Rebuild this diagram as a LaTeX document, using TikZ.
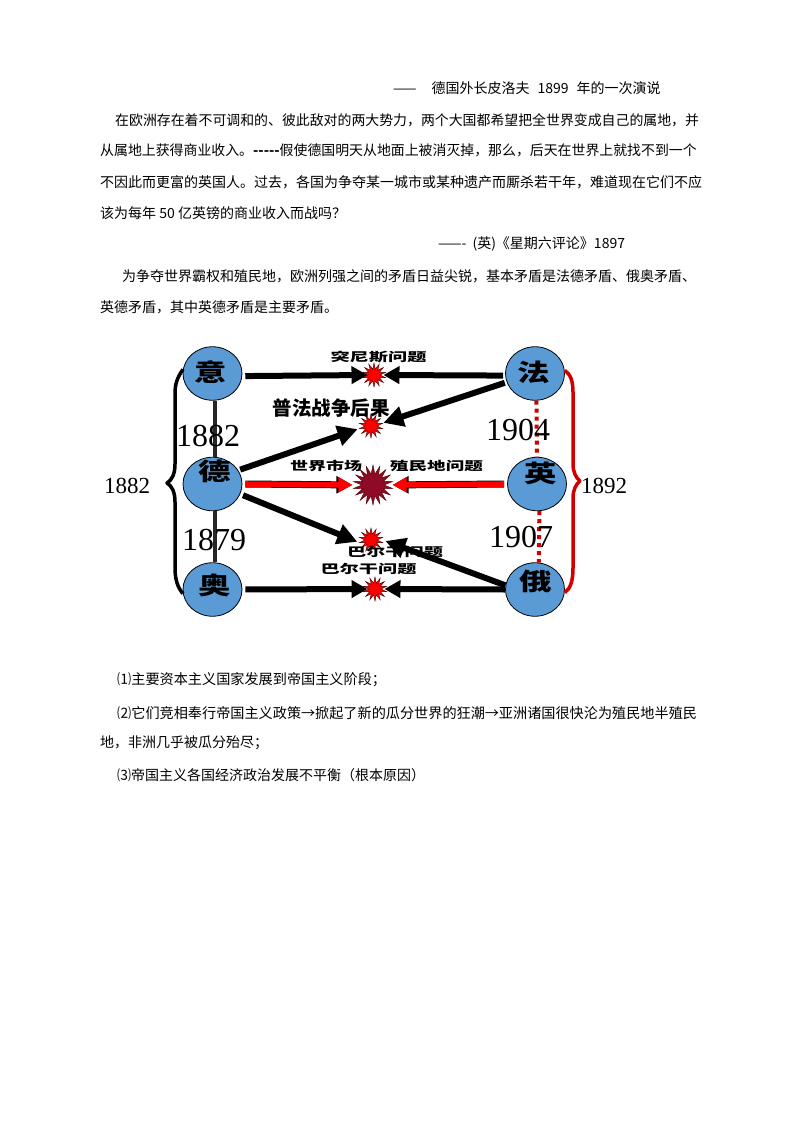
\documentclass[tikz,border=0pt]{standalone}
\usepackage{fontspec}
\usepackage{graphicx}
\setmainfont{Liberation Serif}
\newfontfamily\cjk{Noto Sans CJK SC}
\usetikzlibrary{arrows.meta,shapes.geometric}
\definecolor{ballblue}{HTML}{5B9BD5}
\definecolor{burstdark}{HTML}{8E0A26}
\definecolor{bracered}{HTML}{D00000}
\newcommand{\wideglyph}[2]{\scalebox{#1}[1]{#2}}
\newcommand{\widearrow}{\makebox[14pt]{→}}
\tikzset{
  bodytext/.style={anchor=west,inner sep=0pt,font=\cjk\fontsize{14}{16}\selectfont},
  ball/.style={ellipse,draw=black,line width=.8pt,fill=ballblue,minimum width=59pt,minimum height=53.5pt,inner sep=0pt},
  ballglyph/.style={inner sep=0pt,font=\cjk\bfseries\fontsize{24}{24}\selectfont},
  burst/.style={star,star points=14,star point ratio=2.0,draw=black!70!red,line width=.4pt,fill=red,minimum size=24pt,inner sep=0pt},
  bigburst/.style={star,star points=18,star point ratio=1.8,draw=black!70!red,line width=.4pt,fill=burstdark,minimum size=40pt,inner sep=0pt},
  burstlabel/.style={inner sep=0pt,font=\cjk\bfseries\fontsize{12}{12}\selectfont},
  bignum/.style={inner sep=0pt,font=\fontsize{32}{32}\selectfont},
  smallnum/.style={inner sep=0pt,font=\fontsize{23}{23}\selectfont},
  heavyarrow/.style={line width=6pt,draw=black,-{Triangle[length=16pt,width=17pt]}},
  slantarrow/.style={line width=6pt,draw=black,-{Triangle[length=20pt,width=20pt]}},
  redarrow/.style={line width=5.6pt,draw=red,-{Triangle[length=14pt,width=14.5pt,red]},
    preaction={draw=black,line width=7pt,-{Triangle[length=16pt,width=16.5pt,black]}}},
  allyline/.style={line width=4.5pt,draw=black!85},
  entente/.style={line width=4pt,draw=bracered,dash pattern=on 4pt off 4pt},
  leftbrace/.style={line width=3.5pt,draw=black,line join=round},
  rightbrace/.style={line width=3.5pt,draw=bracered,line join=round}
}
\begin{document}
\begin{tikzpicture}[x=1pt,y=-1pt]
\useasboundingbox (0,0) rectangle (794,1123);
% text
\node[bodytext] (t0) at (393,88) {——\hspace{15pt}德国外长皮洛夫\hspace{8pt}1899\hspace{8pt}年的一次演说};
\node[bodytext,font=\cjk\fontsize{13.9}{16}\selectfont] (t1) at (115,120) {在欧洲存在着不可调和的、彼此敌对的两大势力，两个大国都希望把全世界变成自己的属地，并};
\node[bodytext,font=\cjk\fontsize{13.9}{16}\selectfont] (t2) at (100,150) {从属地上获得商业收入。{\bfseries -----}假使德国明天从地面上被消灭掉，那么，后天在世界上就找不到一个};
\node[bodytext] (t3) at (100,182) {不因此而更富的英国人。过去，各国为争夺某一城市或某种遗产而厮杀若干年，难道现在它们不应};
\node[bodytext] (t4) at (100,213) {该为每年 50 亿英镑的商业收入而战吗？};
\node[bodytext] (t5) at (438,244) {——-\hspace{6pt}(英)《星期六评论》1897};
\node[bodytext] (t6) at (122,276) {为争夺世界霸权和殖民地，欧洲列强之间的矛盾日益尖锐，基本矛盾是法德矛盾、俄奥矛盾、};
\node[bodytext] (t7) at (100,307) {英德矛盾，其中英德矛盾是主要矛盾。};
\node[bodytext,font=\cjk\fontsize{14.15}{16}\selectfont] (t8) at (117,680) {⑴主要资本主义国家发展到帝国主义阶段；};
\node[bodytext,font=\cjk\fontsize{14.15}{16}\selectfont] (t9) at (117,713) {⑵它们竞相奉行帝国主义政策\widearrow 掀起了新的瓜分世界的狂潮\widearrow 亚洲诸国很快沦为殖民地半殖民};
\node[bodytext] (t10) at (100,743) {地，非洲几乎被瓜分殆尽；};
\node[bodytext] (t11) at (117,775) {⑶帝国主义各国经济政治发展不平衡（根本原因）};
% country circles
\node[ball] (yi) at (212.5,373.5) {};
\node[ball] (de) at (212.5,484) {};
\node[ball] (ao) at (212.5,589.5) {};
\node[ball] (fa) at (535,373.5) {};
\node[ball] (ying) at (537,484) {};
\node[ball] (e) at (535,589.5) {};
\node[ballglyph] (gyi) at (211,372) {\wideglyph{1.35}{意}};
\node[ballglyph] (gde) at (215,471) {\wideglyph{1.35}{德}};
\node[ballglyph] (gao) at (215,585) {\wideglyph{1.35}{奥}};
\node[ballglyph] (gfa) at (534,372) {\wideglyph{1.35}{法}};
\node[ballglyph] (gying) at (541,473) {\wideglyph{1.35}{英}};
\node[ballglyph] (ge) at (536,581) {\wideglyph{1.35}{俄}};
% alliance lines
\draw[allyline] (yi.-85) -- (de.85);
\draw[allyline] (de.-85) -- (ao.85);
\draw[entente] (fa.-87) -- (ying.90);
\draw[entente] (ying.-85) -- (e.82);
% braces
\coordinate (ltip) at (167,483);
\coordinate (rtip) at (580,481);
\draw[leftbrace] (yi.172) .. controls (177,378) and (175,384) .. (175,394) -- (175,464)
  .. controls (175,474) and (172,480) .. (ltip)
  .. controls (172,486) and (175,492) .. (175,502) -- (175,568)
  .. controls (175,580) and (178,588) .. (ao.188);
\draw[rightbrace] (fa.6) .. controls (570,374) and (573,380) .. (573,392) -- (573,464)
  .. controls (573,472) and (576,478) .. (rtip)
  .. controls (576,484) and (573,490) .. (573,498) -- (573,568)
  .. controls (573,582) and (570,589) .. (e.-6);
% numbers
\node[bignum] (n1) at (208,436) {1882};
\node[bignum] (n2) at (214,540) {1879};
\node[bignum] (n3) at (518,430) {1904};
\node[bignum] (n4) at (521,537) {1907};
\node[smallnum] (n5) at (127,486) {1882};
\node[smallnum] (n6) at (604,486) {1892};
% bursts
\node[burst] (b1) at (374,375) {};
\node[burst] (b2) at (371,426) {};
\node[bigburst] (b3) at (373,485) {};
\node[burst] (b4) at (371,540) {};
\node[burst] (b5) at (375,589) {};
% burst labels
\node[burstlabel] (l1) at (378.5,357) {\wideglyph{1.6}{突尼斯问题}};
\node[inner sep=0pt,font=\cjk\bfseries\fontsize{19.5}{20}\selectfont] (l2) at (331,408) {普法战争后果};
\node[burstlabel] (l3) at (326,466) {\wideglyph{1.5}{世界市场}};
\node[burstlabel] (l4) at (436.5,466) {\wideglyph{1.55}{殖民地问题}};
\node[burstlabel] (l5) at (395,552) {\wideglyph{1.6}{巴尔干问题}};
\node[burstlabel] (l6) at (368.5,569) {\wideglyph{1.6}{巴尔干问题}};
% arrows
\draw[heavyarrow,shorten <=3pt] (yi.-5) -- (b1.180);
\draw[heavyarrow,shorten <=2pt,shorten >=3pt] (fa.184) -- (b1.0);
\draw[slantarrow,shorten <=2pt,shorten >=1pt] (de.28) -- (b2.193);
\draw[slantarrow,shorten <=2pt,shorten >=1pt] (fa.197) -- (b2.14);
\draw[redarrow,shorten <=3pt,shorten >=9pt] (de.0) -- (b3.180);
\draw[redarrow,shorten <=3pt,shorten >=8pt] (ying.180) -- (b3.0);
\draw[slantarrow,shorten <=3pt,shorten >=2pt] (de.-20) -- (b4.192);
\draw[slantarrow,shorten >=6pt] (e.172) -- (b4.7);
\draw[heavyarrow,shorten <=3pt,shorten >=1pt] (ao.0) -- (b5.180);
\draw[heavyarrow,shorten >=3pt] (e.180) -- (b5.0);
\end{tikzpicture}
\end{document}
